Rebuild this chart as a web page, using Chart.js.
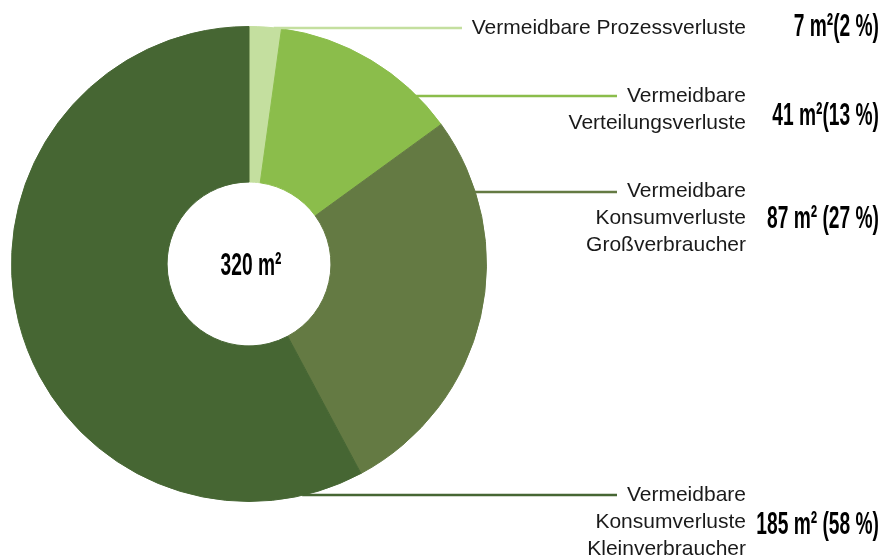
<!DOCTYPE html>
<html>
<head>
<meta charset="utf-8">
<script src="https://cdn.jsdelivr.net/npm/chart.js@4/dist/chart.umd.min.js"></script>
<style>
  html, body { margin: 0; padding: 0; background: #fff; }
  #wrap { width: 889px; height: 555px; position: relative; }
</style>
</head>
<body>
<div id="wrap"><canvas id="chart"></canvas></div>
<script>
// Daten
const categories = [
    ['Vermeidbare Prozessverluste'],
    ['Vermeidbare', 'Verteilungsverluste'],
    ['Vermeidbare', 'Konsumverluste', 'Großverbraucher'],
    ['Vermeidbare', 'Konsumverluste', 'Kleinverbraucher']
];
const values = [7, 41, 87, 185];   // m²
const percents = [2, 13, 27, 58];  // %
const colors = ['#c4df9f', '#8bbd4b', '#647a43', '#466633'];

// Layout der Beschriftungen (Textmitte, Wertmitte, Führungslinie, Linienende)
const labelLayout = [
    {y: 28,  valueY: 27,  lineY: 28,  lineEnd: 462, gap: ''},
    {y: 110, valueY: 116, lineY: 96,  lineEnd: 617, gap: ''},
    {y: 218, valueY: 219, lineY: 192, lineEnd: 617, gap: ' '},
    {y: 522, valueY: 525, lineY: 495, lineEnd: 617, gap: ' '}
];

const total = values.reduce((a, b) => a + b, 0);

// Schmal gesetzte, fette Zahl (kondensiert per Skalierung)
function drawCondensed(ctx, text, x, y, size, align) {
    ctx.save();
    ctx.font = 'bold ' + size + 'px "Liberation Sans", Arial, sans-serif';
    ctx.textBaseline = 'middle';
    ctx.fillStyle = '#000';
    const sx = 0.6;
    const w = ctx.measureText(text).width * sx;
    let left = x;
    if (align === 'right') left = x - w;
    if (align === 'center') left = x - w / 2;
    ctx.translate(left, y);
    ctx.scale(sx, 1);
    ctx.textAlign = 'left';
    ctx.fillText(text, 0, 0);
    ctx.restore();
}

const labelsPlugin = {
    id: 'sideLabels',
    afterDraw(chart) {
        const ctx = chart.ctx;
        const meta = chart.getDatasetMeta(0);
        const arc0 = meta.data[0];
        const cx = arc0.x, cy = arc0.y, R = arc0.outerRadius;

        // Mitte
        drawCondensed(ctx, total + ' m²', cx + 2, cy + 2, 32, 'center');

        values.forEach((v, i) => {
            const lay = labelLayout[i];
            const dy = lay.lineY - cy;
            const x0 = cx + Math.sqrt(Math.max(0, R * R - dy * dy));
            ctx.save();
            ctx.strokeStyle = colors[i];
            ctx.lineWidth = 2.5;
            ctx.beginPath();
            ctx.moveTo(x0 - 2, lay.lineY);
            ctx.lineTo(lay.lineEnd, lay.lineY);
            ctx.stroke();
            ctx.restore();

            const lines = categories[i];
            const lh = 27;
            ctx.save();
            ctx.font = '21px "Liberation Sans", Arial, sans-serif';
            ctx.fillStyle = '#1a1a1a';
            ctx.textAlign = 'right';
            ctx.textBaseline = 'middle';
            const top = lay.y - (lines.length - 1) * lh / 2;
            lines.forEach((t, j) => ctx.fillText(t, 746, top + j * lh));
            ctx.restore();

            drawCondensed(ctx, v + ' m²' + lay.gap + '(' + percents[i] + ' %)', 879, lay.valueY, 32, 'right');
        });
    }
};

new Chart(document.getElementById('chart').getContext('2d'), {
    type: 'doughnut',
    data: {
        labels: categories.map(c => c.join(' ')),
        datasets: [{
            data: values,
            backgroundColor: colors,
            borderColor: colors,
            borderWidth: 1
        }]
    },
    options: {
        responsive: true,
        maintainAspectRatio: false,
        animation: false,
        cutout: '34.5%',
        layout: {padding: {left: 11, top: 26, right: 402, bottom: 53}},
        plugins: {legend: {display: false}, tooltip: {enabled: false}}
    },
    plugins: [labelsPlugin]
});
</script>
</body>
</html>
